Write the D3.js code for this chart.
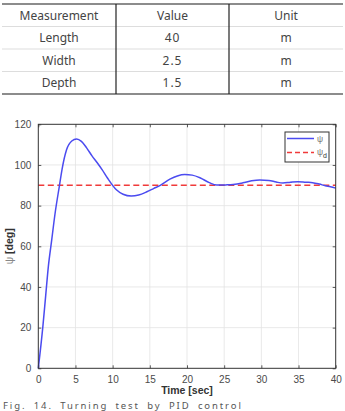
<!DOCTYPE html>
<html><head><meta charset="utf-8">
<script src="https://cdn.jsdelivr.net/npm/d3@7"></script>
<style>
html,body{margin:0;padding:0;background:#fff;overflow:hidden;}
svg{display:block;}
</style></head>
<body>
<svg id="c" width="345" height="411"></svg>
<script>
// ---- table data ----
const tableHeaders = ["Measurement", "Value", "Unit"];
const tableMeasurements = ["Length", "Width", "Depth"];
const tableValues = ["40", "2.5", "1.5"];
const tableUnits = ["m", "m", "m"];

// ---- chart data ----
const time = [0, 0.6, 1.0, 1.35, 1.8, 2.25, 2.85, 3.2, 3.8, 4.5, 5.15, 5.8, 6.5, 7.2, 7.9, 8.6, 9.3, 10.5, 11.4, 12.5, 13.5, 14.6, 15.5, 16.4, 17.7, 18.7, 19.7, 20.7, 21.8, 23.0, 24.0, 25.2, 26.2, 27.5, 28.7, 29.8, 31.0, 32.0, 32.9, 33.9, 34.9, 36.0, 36.9, 37.8, 38.6, 39.3, 40];
const psi = [0, 20, 36, 50, 63, 76, 90, 98, 107.5, 111.8, 112.8, 111.6, 108.4, 104.6, 101.2, 97.6, 93.6, 87.8, 85.6, 84.7, 85.2, 86.8, 88.4, 90, 93, 94.6, 95.3, 95, 93.6, 91.3, 90.1, 90.2, 90.4, 91.2, 92.2, 92.6, 92.4, 91.6, 91.1, 91.5, 91.8, 91.5, 91.3, 90.6, 89.8, 89.3, 88.6];
const psiDesired = 90;
const xTicks = [0, 5, 10, 15, 20, 25, 30, 35, 40];
const yTicks = [0, 20, 40, 60, 80, 100, 120];
const caption = "Fig. 14. Turning test by PID control";

const svg = d3.select("#c");

// ---- table ----
const tFont = "'Noto Sans', 'Liberation Sans', sans-serif";
const colX = [2, 116, 229, 343];
const rowY = [4, 26.5, 49, 71.5, 94];
const rows = [tableHeaders].concat(tableMeasurements.map((m, i) => [m, tableValues[i], tableUnits[i]]));
rows.forEach((r, ri) => {
  r.forEach((cell, ci) => {
    svg.append("text")
      .attr("x", (colX[ci] + colX[ci + 1]) / 2)
      .attr("y", (rowY[ri] + rowY[ri + 1]) / 2 + 4.5)
      .attr("text-anchor", "middle")
      .attr("font-family", tFont).attr("font-size", 12)
      .attr("fill", "#444")
      .attr("letter-spacing", ci === 1 && ri > 0 ? 1 : 0)
      .text(cell);
  });
});
[1, 2, 3].forEach(i => svg.append("line").attr("x1", colX[0]).attr("x2", colX[3])
  .attr("y1", rowY[i]).attr("y2", rowY[i]).attr("stroke", "#d4d4d4").attr("stroke-width", 0.8));
[0, 4].forEach(i => svg.append("line").attr("x1", colX[0]).attr("x2", colX[3])
  .attr("y1", rowY[i]).attr("y2", rowY[i]).attr("stroke", "#666").attr("stroke-width", 1.5));
[1, 2].forEach(i => svg.append("line").attr("x1", colX[i]).attr("x2", colX[i])
  .attr("y1", rowY[0]).attr("y2", rowY[4]).attr("stroke", "#222").attr("stroke-width", 1.2));

// ---- chart ----
const cFont = "'Liberation Sans', Arial, Helvetica, sans-serif";
const L = 38.3, R = 335.7, T = 124.3, B = 368.3;
const x = d3.scaleLinear().domain([0, 40]).range([L, R]);
const y = d3.scaleLinear().domain([0, 120]).range([B, T]);
const g = svg.append("g");

g.append("rect").attr("x", L).attr("y", T).attr("width", R - L).attr("height", B - T).attr("fill", "#fff");

// grid
g.append("g").selectAll("line").data(xTicks.slice(1, -1)).join("line")
  .attr("x1", d => x(d)).attr("x2", d => x(d)).attr("y1", T).attr("y2", B)
  .attr("stroke", "#e3e3e3").attr("stroke-width", 0.8);
g.append("g").selectAll("line").data(yTicks.slice(1, -1)).join("line")
  .attr("y1", d => y(d)).attr("y2", d => y(d)).attr("x1", L).attr("x2", R)
  .attr("stroke", "#e3e3e3").attr("stroke-width", 0.8);

// axes (ticks inward)
const axStyle = sel => {
  sel.select(".domain").remove();
  sel.selectAll(".tick line").attr("stroke", "#333").attr("stroke-width", 0.8);
  sel.selectAll("text").attr("font-family", cFont).attr("font-size", 10).attr("fill", "#4a4a4a");
};
g.append("g").attr("transform", `translate(0,${B})`)
  .call(d3.axisBottom(x).tickValues(xTicks).tickSize(-3).tickPadding(8).tickFormat(d3.format("d")))
  .call(axStyle);
g.append("g").attr("transform", `translate(0,${T})`)
  .call(d3.axisTop(x).tickValues(xTicks).tickSize(-3).tickFormat(""))
  .call(axStyle);
g.append("g").attr("transform", `translate(${L},0)`)
  .call(d3.axisLeft(y).tickValues(yTicks).tickSize(-3).tickPadding(7).tickFormat(d3.format("d")))
  .call(axStyle);
g.append("g").attr("transform", `translate(${R},0)`)
  .call(d3.axisRight(y).tickValues(yTicks).tickSize(-3).tickFormat(""))
  .call(axStyle);

// desired line
g.append("line").attr("x1", x(0)).attr("x2", x(40)).attr("y1", y(psiDesired)).attr("y2", y(psiDesired))
  .attr("stroke", "#f03a3a").attr("stroke-width", 1.6).attr("stroke-dasharray", "6,3.5");

// psi curve
const line = d3.line().x((d, i) => x(time[i])).y(d => y(d)).curve(d3.curveMonotoneX);
g.append("path").datum(psi).attr("d", line).attr("fill", "none")
  .attr("stroke", "#4b4bf0").attr("stroke-width", 1.5);

// frame
g.append("rect").attr("x", L).attr("y", T).attr("width", R - L).attr("height", B - T)
  .attr("fill", "none").attr("stroke", "#333").attr("stroke-width", 1);

// legend
const lg = g.append("g");
lg.append("rect").attr("x", 285).attr("y", 132).attr("width", 44).attr("height", 30)
  .attr("fill", "#fff").attr("stroke", "#333").attr("stroke-width", 1);
lg.append("line").attr("x1", 287).attr("x2", 314).attr("y1", 138.5).attr("y2", 138.5)
  .attr("stroke", "#4b4bf0").attr("stroke-width", 1.5);
lg.append("line").attr("x1", 287).attr("x2", 314).attr("y1", 152.5).attr("y2", 152.5)
  .attr("stroke", "#f03a3a").attr("stroke-width", 1.5).attr("stroke-dasharray", "5,3");
lg.append("text").attr("x", 317).attr("y", 142).attr("font-family", cFont).attr("font-size", 8.5)
  .attr("fill", "#777").text("ψ");
const t2 = lg.append("text").attr("x", 317).attr("y", 155).attr("font-family", cFont).attr("font-size", 8.5)
  .attr("fill", "#777");
t2.append("tspan").text("ψ");
t2.append("tspan").attr("dy", 2.5).attr("font-size", 7).attr("fill", "#333").text("d");

// axis labels
g.append("text").attr("x", (L + R) / 2).attr("y", 394).attr("text-anchor", "middle")
  .attr("font-family", cFont).attr("font-size", 10.5).attr("font-weight", "bold").attr("fill", "#333")
  .text("Time [sec]");
const yl = g.append("text").attr("transform", `translate(13,${(T + B) / 2}) rotate(-90)`).attr("text-anchor", "middle")
  .attr("font-family", cFont).attr("font-size", 10.5).attr("fill", "#333");
yl.append("tspan").attr("fill", "#888").text("ψ ");
yl.append("tspan").attr("font-weight", "bold").text("[deg]");

// caption
svg.append("text").attr("x", 3).attr("y", 409).attr("font-family", tFont).attr("font-size", 9.5)
  .attr("fill", "#555").attr("letter-spacing", 1.9).attr("word-spacing", 3).text(caption);
</script>
</body></html>
